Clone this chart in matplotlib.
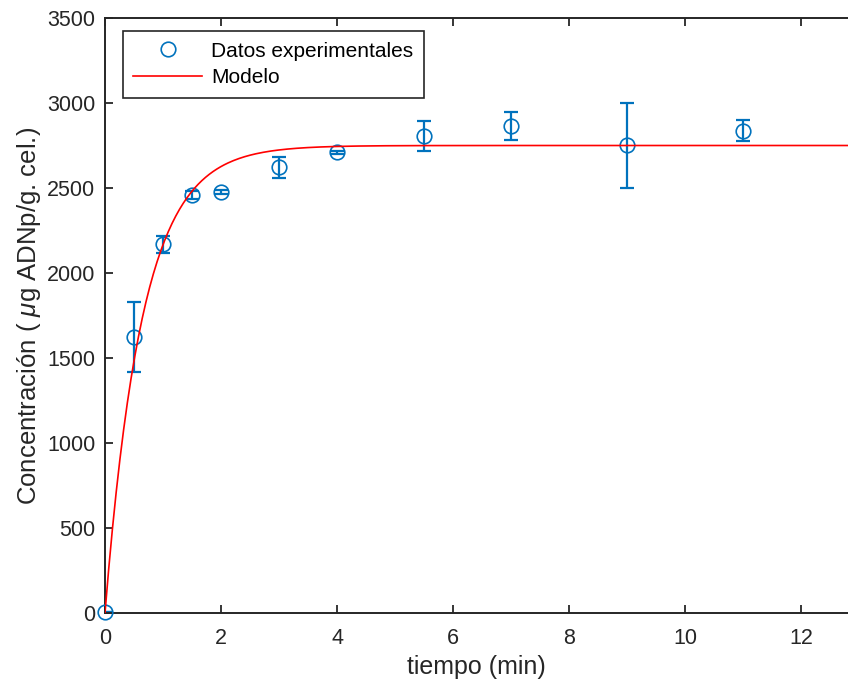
import numpy as np
import matplotlib
matplotlib.use("Agg")
import matplotlib.pyplot as plt

t_exp = [0, 0.5, 1, 1.5, 2, 3, 4, 5.5, 7, 9, 11]
c_exp = [5, 1624, 2170, 2459, 2476, 2622, 2710, 2806, 2864, 2752, 2838]
c_err = [0, 205, 50, 25, 10, 63, 10, 90, 83, 250, 60]

# fitted model: C = C_max * (1 - exp(-k t))
C_MAX = 2750
K_RATE = 1.55

BLUE = "#0072BD"
RED = "#FF0000"
DARK = "#262626"

plt.rcParams["font.family"] = ["Liberation Sans", "DejaVu Sans"]
plt.rcParams["mathtext.fontset"] = "custom"
plt.rcParams["mathtext.it"] = "Liberation Sans:italic"
plt.rcParams["mathtext.rm"] = "Liberation Sans"

fig = plt.figure(figsize=(8.48, 6.88), dpi=100)
ax = fig.add_axes([105 / 848, 75 / 688, 743 / 848, 595 / 688])

t_model = np.linspace(0, 12.81, 400)
c_model = C_MAX * (1 - np.exp(-K_RATE * t_model))

ax.errorbar(t_exp, c_exp, yerr=c_err, fmt="none", ecolor=BLUE,
            elinewidth=1.6, capsize=5, capthick=1.6, zorder=2)
ax.plot(t_exp, c_exp, "o", mfc="none", mec=BLUE, mew=1.2, ms=10.5,
        label="Datos experimentales", zorder=3, clip_on=False)
ax.plot(t_model, c_model, color=RED, lw=1.2, label="Modelo", zorder=4)

ax.set_xlim(0, 12.81)
ax.set_ylim(0, 3500)
ax.set_xticks(np.arange(0, 13, 2))
ax.set_yticks(np.arange(0, 3501, 500))
ax.tick_params(direction="in", length=6, width=1.3, colors=DARK,
               labelsize=15.5, top=True, right=False, pad=7)
ax.tick_params(axis="x", pad=11)
for side in ["left", "bottom", "top"]:
    ax.spines[side].set_linewidth(1.4)
    ax.spines[side].set_color(DARK)
ax.spines["right"].set_visible(False)

ax.set_xlabel("tiempo (min)", fontsize=18, color=DARK, labelpad=4)
ax.set_ylabel(r"Concentración ( $\mu$g ADNp/g. cel.)", fontsize=18.5,
              color=DARK, labelpad=3)

leg = ax.legend(loc="upper left", bbox_to_anchor=(0.024, 0.978),
                borderaxespad=0, fontsize=15, handlelength=3.3,
                handletextpad=0.45, labelspacing=0.38, borderpad=0.5,
                fancybox=False, framealpha=1)
leg.get_frame().set_edgecolor(DARK)
leg.get_frame().set_linewidth(1.2)

fig.savefig("out.png", dpi=100)
